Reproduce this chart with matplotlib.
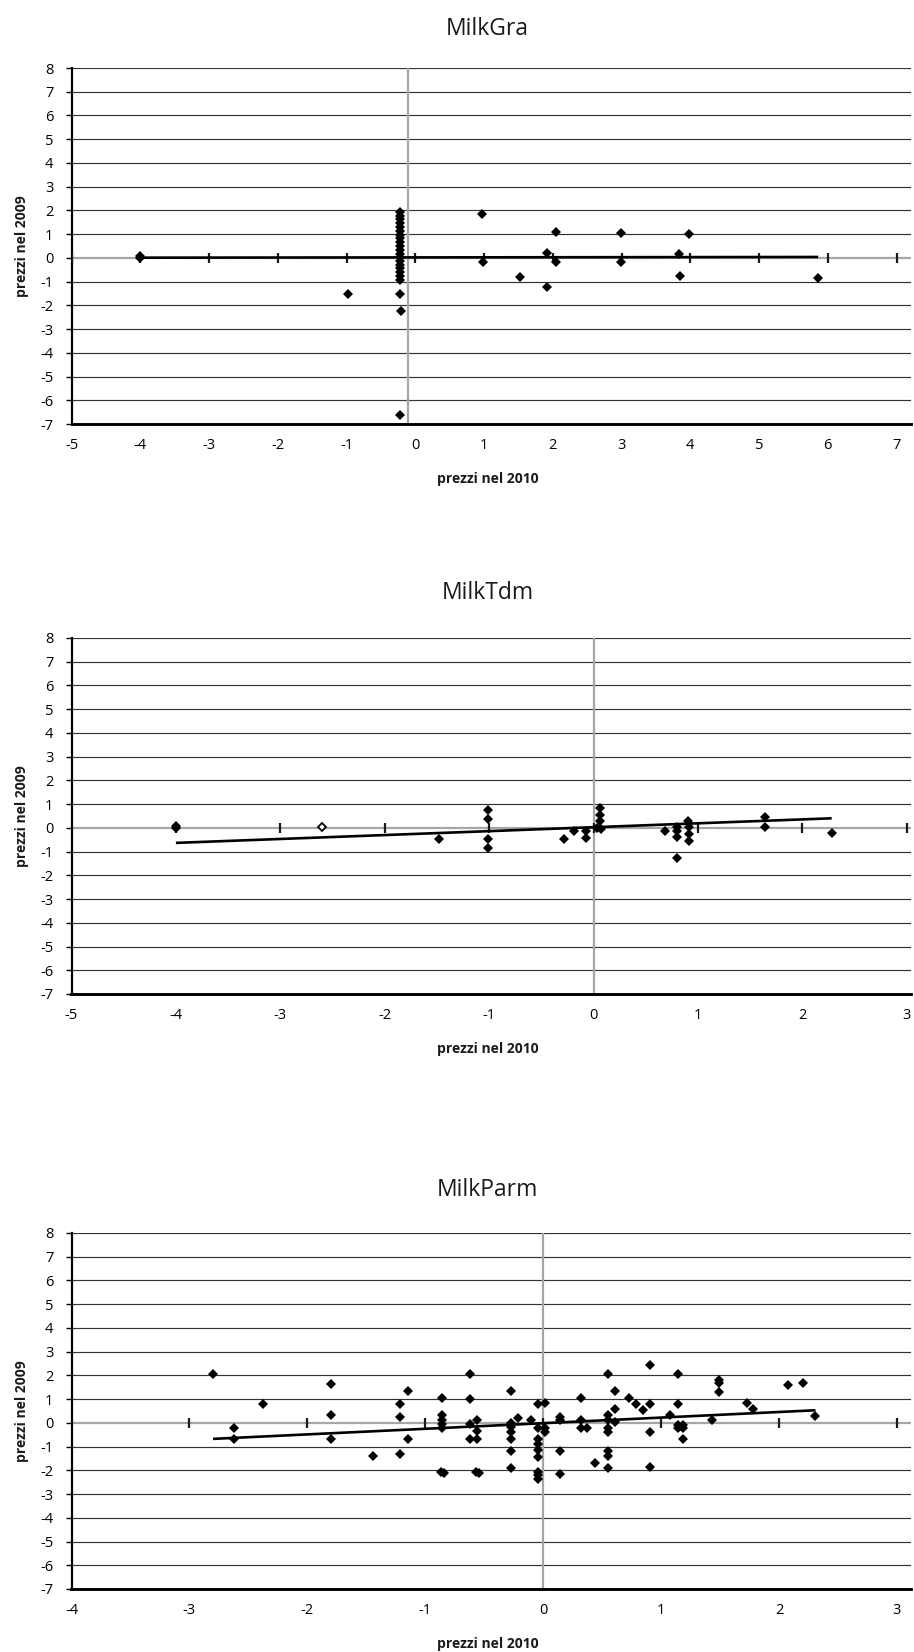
import matplotlib
matplotlib.use("Agg")
import matplotlib.pyplot as plt
import numpy as np

plt.rcParams["axes.unicode_minus"] = False
plt.rcParams["font.family"] = ["Open Sans", "DejaVu Sans"]

W, H, DPI = 914, 1652, 100

# ---------------- MilkGra ----------------
gra_x = [-4.0, -4.0, -0.98,
         -0.22, -0.22, -0.22, -0.22, -0.22, -0.22, -0.22, -0.22, -0.22, -0.22,
         -0.22, -0.22, -0.22, -0.22, -0.22, -0.22, -0.22, -0.22, -0.22,
         -0.22, -0.21, -0.22,
         0.97, 0.99, 1.52, 1.91, 1.91, 2.04, 2.04, 2.99, 2.99,
         3.83, 3.85, 3.98, 5.86]
gra_y = [0.06, -0.02, -1.51,
         1.93, 1.78, 1.62, 1.46, 1.30, 1.14, 0.98, 0.82, 0.66, 0.50,
         0.34, 0.18, 0.03, -0.12, -0.28, -0.44, -0.60, -0.76, -0.94,
         -1.54, -2.24, -6.61,
         1.83, -0.17, -0.79, 0.19, -1.22, 1.10, -0.16, 1.05, -0.17,
         0.18, -0.76, 1.01, -0.84]
gra_trend = (0.003, 0.02)        # slope, intercept
gra_xrange = (-5, 7.21)
gra_vaxis = -0.1

# ---------------- MilkTdm ----------------
tdm_x = [-4.0, -4.0, -1.48, -1.01, -1.01, -1.01, -1.01, -0.28, -0.19, -0.07,
         -0.07, 0.03, 0.06, 0.06, 0.06, 0.07, 0.68, 0.80, 0.80, 0.80, 0.80,
         0.90, 0.91, 0.91, 0.91, 1.64, 1.64, 2.28]
tdm_y = [0.08, -0.02, -0.46, 0.77, 0.38, -0.46, -0.86, -0.49, -0.14, -0.13,
         -0.41, 0.0, 0.82, 0.56, 0.30, -0.06, -0.13, 0.04, -0.13, -0.38, -1.25,
         0.30, 0.04, -0.27, -0.56, 0.46, 0.03, -0.20]
tdm_open_x = [-2.60]
tdm_open_y = [0.03]
tdm_trend = (0.165, 0.027)
tdm_xrange = (-5, 3.04)
tdm_vaxis = 0.0

# ---------------- MilkParm ----------------
parm_x = [-2.80, -2.62, -2.62, -2.38, -1.80, -1.80, -1.80, -1.44, -1.21, -1.21,
          -1.21, -1.15, -1.15, -0.86, -0.86, -0.86, -0.86, -0.86, -0.87, -0.84,
          -0.62, -0.62, -0.62, -0.62, -0.56, -0.56, -0.56, -0.57, -0.54, -0.27,
          -0.27, -0.27, -0.27, -0.27, -0.27, -0.27, -0.21, -0.10, -0.04, 0.02,
          -0.04, 0.02, 0.02, -0.04, -0.04, -0.04, -0.04, -0.04, -0.04, -0.04,
          0.14, 0.14, 0.14, 0.14, 0.32, 0.32, 0.32, 0.37, 0.44, 0.55,
          0.55, 0.55, 0.55, 0.55, 0.55, 0.55, 0.55, 0.61, 0.61, 0.61,
          0.73, 0.79, 0.85, 0.91, 0.91, 0.91, 0.91, 1.08, 1.14, 1.14,
          1.14, 1.19, 1.14, 1.19, 1.19, 1.43, 1.49, 1.49, 1.49, 1.73,
          1.78, 2.08, 2.20, 2.31]
parm_y = [2.07, -0.20, -0.67, 0.78, 1.62, 0.32, -0.69, -1.38, 0.78, 0.24,
          -1.33, 1.33, -0.66, 1.06, 0.32, 0.14, -0.03, -0.20, -2.05, -2.10,
          2.07, 1.02, -0.06, -0.69, 0.11, -0.35, -0.66, -2.05, -2.10, 1.33,
          0.0, -0.17, -0.38, -0.66, -1.19, -1.92, 0.22, 0.11, 0.81, 0.84,
          -0.20, -0.20, -0.39, -0.70, -0.90, -1.15, -1.43, -2.06, -2.20, -2.38,
          0.25, 0.11, -1.19, -2.17, 1.06, 0.11, -0.20, -0.20, -1.68, 2.07,
          0.32, 0.11, -0.20, -0.39, -1.19, -1.40, -1.92, 1.33, 0.60, 0.04,
          1.06, 0.78, 0.53, 2.42, 0.81, -0.39, -1.87, 0.35, 2.07, 0.81,
          -0.10, -0.10, -0.20, -0.20, -0.66, 0.11, 1.79, 1.68, 1.30, 0.84,
          0.60, 1.58, 1.68, 0.28]
parm_trend = (0.236, -0.014)
parm_xrange = (-4, 3.12)
parm_vaxis = 0.0

y_range = (-7, 8)
x_title = "prezzi nel 2010"
y_title = "prezzi nel 2009"

fig = plt.figure(figsize=(W / DPI, H / DPI), dpi=DPI)
fig.patch.set_facecolor("white")

LEFT, RIGHT = 71.5, 911.0


def px_axes(top, bottom):
    return fig.add_axes([LEFT / W, 1 - bottom / H, (RIGHT - LEFT) / W, (bottom - top) / H])


def panel(top, bottom, title, title_y, xs, ys, xrange, vaxis, trend,
          open_x=None, open_y=None):
    ax = px_axes(top, bottom)
    ax.set_xlim(*xrange)
    ax.set_ylim(*y_range)
    ax.set_facecolor("white")

    # horizontal gridlines
    for v in range(y_range[0] + 1, y_range[1] + 1):
        if v == 0:
            continue
        ax.axhline(v, color="#333333", lw=0.85, zorder=1)

    # gray crossing axes
    ax.axhline(0, color="#a6a6a6", lw=1.6, zorder=2)
    ax.axvline(vaxis, color="#a6a6a6", lw=1.6, zorder=2)

    # tick crosses along the zero line
    tx = np.arange(int(np.ceil(xrange[0])), int(np.floor(xrange[1])) + 1)
    ax.plot(tx, np.zeros_like(tx, dtype=float), linestyle="none", marker="|",
            markersize=7, mew=1.6, color="#1a1a1a", zorder=3)

    # regression line over the data span
    slope, icpt = trend
    lx = np.array([min(xs), max(xs)])
    ax.plot(lx, slope * lx + icpt, color="black", lw=1.9, zorder=4,
            solid_capstyle="butt")

    ax.plot(xs, ys, linestyle="none", marker="D", markersize=4.8,
            color="black", mew=0, zorder=5)
    if open_x is not None:
        ax.plot(open_x, open_y, linestyle="none", marker="D", markersize=4.0,
                mfc="white", mec="black", mew=1.3, zorder=5)

    for s in ("top", "right"):
        ax.spines[s].set_visible(False)
    ax.spines["left"].set_linewidth(1.6)
    ax.spines["left"].set_color("black")
    ax.spines["bottom"].set_linewidth(2.1)
    ax.spines["bottom"].set_color("black")

    ax.set_yticks(range(y_range[0], y_range[1] + 1))
    ax.set_yticklabels([str(v) for v in range(y_range[0], y_range[1] + 1)])
    ax.set_xticks(tx)
    ax.set_xticklabels([str(v) for v in tx])
    ax.tick_params(axis="y", direction="out", length=4, width=1, pad=9,
                   labelsize=10.5, colors="black")
    ax.tick_params(axis="x", length=0, pad=10, labelsize=10.5, colors="black")

    cx = (LEFT + RIGHT) / 2 / W - 0.004
    fig.text(cx, 1 - title_y / H, title, ha="center", va="center",
             fontsize=16.5, color="#1a1a1a")
    fig.text(cx, 1 - (bottom + 55) / H, x_title, ha="center", va="center",
             fontsize=10, fontweight="bold", color="#1a1a1a")
    fig.text(21.7 / W, 1 - (top + bottom) / 2 / H, y_title, ha="center",
             va="center", rotation=90, fontsize=10, fontweight="bold",
             color="#1a1a1a")
    return ax


panel(68, 424, "MilkGra", 29, gra_x, gra_y, gra_xrange, gra_vaxis, gra_trend)
panel(638, 994, "MilkTdm", 593, tdm_x, tdm_y, tdm_xrange, tdm_vaxis, tdm_trend,
      tdm_open_x, tdm_open_y)
panel(1233, 1589, "MilkParm", 1190, parm_x, parm_y, parm_xrange, parm_vaxis,
      parm_trend)

fig.savefig("out.png", dpi=DPI, facecolor="white")
